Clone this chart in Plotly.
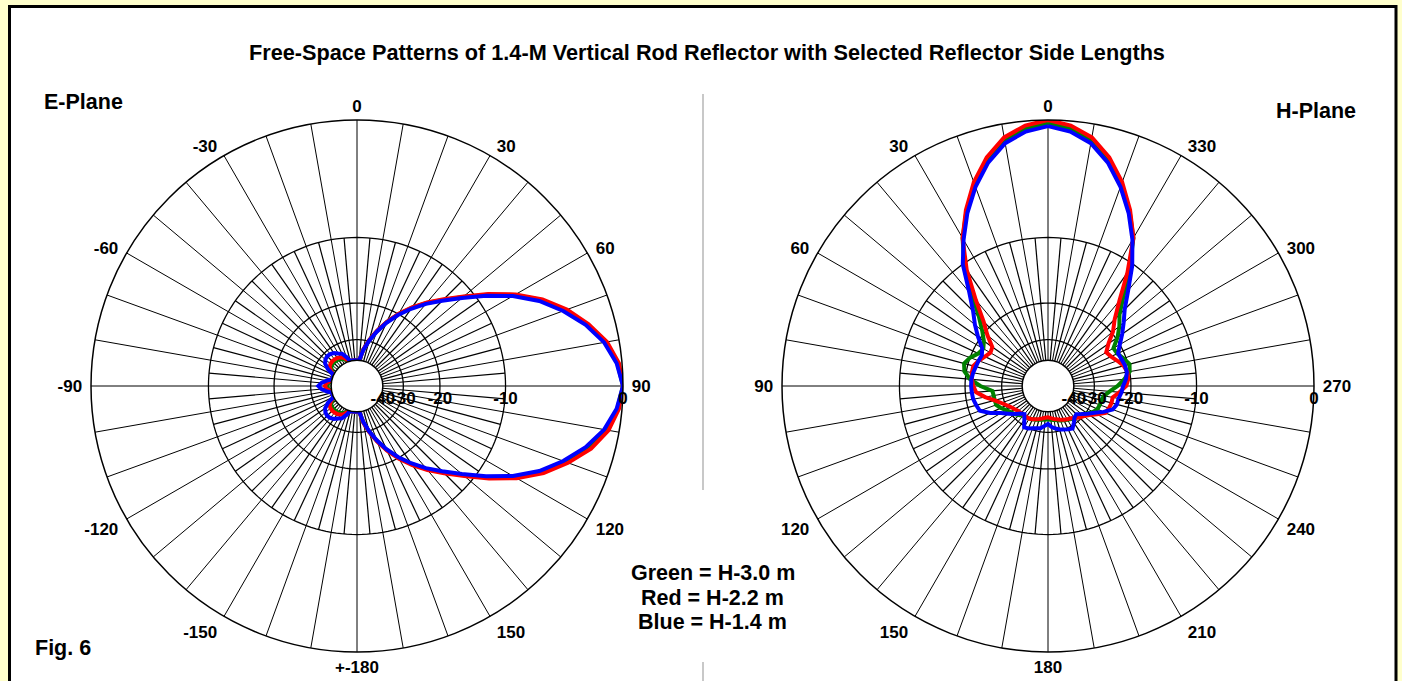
import plotly.graph_objects as go

W, H = 1402, 681

TITLE = "Free-Space Patterns of 1.4-M Vertical Rod Reflector with Selected Reflector Side Lengths"

# azimuth / elevation angles (degrees), 5-degree steps
theta_deg = list(range(0, 360, 5))

# ---------------- E-plane (0 up, clockwise; 270 == -90) ----------------
e_blue = [-50, -40.5, -34, -29.8, -26.2, -23.0, -20.2, -17.8, -15.6, -13.6, -11.4, -9.0,
          -6.7, -4.8, -3.3, -2.0, -1.0, -0.35, 0.0, -0.35, -1.0, -2.0, -3.3, -4.8,
          -6.7, -9.0, -11.4, -13.6, -15.6, -17.8, -20.2, -23.0, -26.2, -29.8, -34, -40.5,
          -50, -50, -45, -40.5, -37, -34.5, -33.6, -32.4, -31.8, -31.6, -32.0, -33.0,
          -35.5, -40, -46, -41, -37, -34.5, -33.1, -34.5, -37, -41, -46, -40,
          -35.5, -33.0, -32.0, -31.6, -31.8, -32.4, -33.6, -34.5, -37, -40.5, -45, -50]
e_red = [-50, -40.3, -33.7, -29.5, -25.9, -22.7, -19.9, -17.5, -15.3, -13.3, -11.1, -8.7,
         -6.4, -4.5, -3.0, -1.8, -0.8, -0.2, 0.0, -0.2, -0.7, -1.6, -2.9, -4.4,
         -6.3, -8.6, -11.0, -13.2, -15.2, -17.4, -19.8, -22.6, -25.8, -29.4, -33.6, -40.2,
         -50, -50, -46, -42, -39, -36.8, -35.8, -35.2, -34.9, -34.8, -35.0, -35.6,
         -37.5, -41, -47, -42, -39, -37, -36.3, -37, -39, -42, -47, -41,
         -37.5, -35.6, -35.0, -34.8, -34.9, -35.2, -35.8, -36.8, -39, -42, -46, -50]
e_green = [-50, -40.4, -33.8, -29.6, -26.0, -22.8, -20.0, -17.6, -15.4, -13.4, -11.2, -8.8,
           -6.5, -4.6, -3.1, -1.9, -0.9, -0.3, 0.0, -0.3, -0.9, -1.8, -3.1, -4.6,
           -6.5, -8.8, -11.2, -13.4, -15.4, -17.6, -20.0, -22.8, -26.0, -29.6, -33.8, -40.4,
           -50, -50, -47, -43, -40, -37.8, -36.8, -36.2, -35.9, -35.8, -36.0, -36.6,
           -38.5, -42, -48, -43, -40, -38, -37.2, -38, -40, -43, -48, -42,
           -38.5, -36.6, -36.0, -35.8, -35.9, -36.2, -36.8, -37.8, -40, -43, -47, -50]

# ---------------- H-plane (0 up, counter-clockwise) ----------------
h_blue = [-0.4, -0.7, -1.3, -2.4, -3.9, -5.7, -7.8, -10.0, -13.3, -15.8, -17.6, -19.5,
          -21.5, -22.2, -22.0, -21.8, -21.5, -21.3, -21.3, -21.4, -21.5, -21.9, -22.3, -24.5,
          -27.3, -29.3, -31.0, -33.0, -34.0, -32.0, -29.5, -29.8, -30.5, -31.0, -31.3, -32.5,
          -33.4, -32.0, -31.2, -30.5, -30.0, -29.5, -29.0, -30.5, -32.0, -32.5, -31.0, -29.3,
          -27.5, -25.2, -23.2, -22.6, -22.5, -22.0, -21.7, -21.0, -20.6, -20.7, -21.0, -21.2,
          -20.0, -18.5, -17.0, -15.4, -13.0, -10.2, -7.8, -5.7, -3.9, -2.4, -1.3, -0.7]
h_red = [0.0, -0.3, -0.9, -2.0, -3.5, -5.4, -7.6, -10.8, -14.8, -18.4, -20.8, -23.4,
         -23.8, -23.0, -22.0, -21.2, -21.2, -21.4, -21.8, -22.4, -24.5, -27.0, -28.8, -30.3,
         -31.5, -32.3, -33.0, -33.3, -33.4, -33.5, -33.6, -34.0, -34.6, -35.2, -35.8, -36.4,
         -36.7, -36.2, -35.6, -35.1, -34.4, -33.7, -33.2, -32.8, -31.8, -30.6, -29.8, -28.5,
         -26.6, -24.6, -24.2, -24.0, -24.0, -22.5, -21.0, -20.5, -20.5, -21.0, -22.0, -23.0,
         -23.6, -22.0, -19.6, -17.8, -15.0, -11.2, -7.6, -5.4, -3.5, -2.0, -0.9, -0.3]
h_green = [-0.2, -0.5, -1.1, -2.2, -3.7, -5.5, -7.6, -10.3, -14.0, -17.2, -19.4, -21.0,
           -21.8, -21.3, -20.0, -19.2, -19.6, -21.0, -23.5, -26.8, -27.0, -27.0, -27.0, -28.0,
           -29.3, -30.3, -31.0, -32.0, -33.0, -33.3, -33.6, -34.0, -34.4, -34.8, -35.2, -35.5,
           -35.6, -35.4, -35.0, -34.6, -34.0, -33.5, -33.0, -32.4, -31.8, -31.2, -30.8, -29.5,
           -28.0, -27.2, -27.0, -27.0, -26.5, -25.0, -23.0, -21.4, -20.0, -19.7, -20.5, -21.4,
           -21.6, -19.6, -18.0, -16.6, -14.0, -10.8, -7.6, -5.5, -3.7, -2.2, -1.1, -0.5]

series_names = ["Green", "Red", "Blue"]
series_colors = ["#008000", "#FF0000", "#0000FF"]

ring_db = [-40, -30, -20, -10, 0]
ring_labels = ["-40", "-30", "-20", "-10", "0"]
label_angles = list(range(0, 360, 30))
e_angle_labels = ["0", "30", "60", "90", "120", "150", "+-180", "-150", "-120", "-90", "-60", "-30"]
h_angle_labels = ["0", "30", "60", "90", "120", "150", "180", "210", "240", "270", "300", "330"]
legend_lines = ["Green = H-3.0 m", "Red = H-2.2 m", "Blue = H-1.4 m"]

FONT = "Liberation Sans"
NB = "\u00a0"


def arrl(db):
    """ARRL log scale: radius shrinks by 0.89 every 2 dB."""
    return 0.89 ** (-db / 2.0)


HOLE = arrl(ring_db[0])

tick_font = dict(family=FONT, size=17, color="black", weight="bold")

fig = go.Figure()

for subplot in ["polar", "polar2"]:
    # inner grid rings
    ring_theta = list(range(0, 361, 2))
    for db in ring_db[1:-1]:
        fig.add_trace(go.Scatterpolar(r=[arrl(db)] * len(ring_theta), theta=ring_theta,
                                      mode="lines", line=dict(color="black", width=1.3),
                                      hoverinfo="skip", showlegend=False, subplot=subplot))
    # 5-degree spokes inside the -10 dB ring
    sr, st = [], []
    for a in range(5, 360, 10):
        sr += [arrl(ring_db[0]), arrl(ring_db[3]), None]
        st += [a, a, None]
    fig.add_trace(go.Scatterpolar(r=sr, theta=st, mode="lines",
                                  line=dict(color="black", width=1.2),
                                  hoverinfo="skip", showlegend=False, subplot=subplot))

for subplot, data in [("polar", [e_green, e_red, e_blue]), ("polar2", [h_green, h_red, h_blue])]:
    for name, color, vals in zip(series_names, series_colors, data):
        r = [arrl(v) for v in vals] + [arrl(vals[0])]
        th = theta_deg + [theta_deg[0]]
        fig.add_trace(go.Scatterpolar(r=r, theta=th, mode="lines", name=name,
                                      line=dict(color=color, width=4),
                                      hoverinfo="skip", showlegend=False, subplot=subplot))

spoke_vals = list(range(0, 360, 10))


def angular(labels, direction):
    text = []
    for a in spoke_vals:
        if a not in label_angles:
            text.append("")
            continue
        lab = labels[label_angles.index(a)]
        if a in (0, 180):
            text.append(lab)
        else:
            # pad on the side facing the circle (labels sit a bit further out)
            right_side = (a < 180) == (direction == "clockwise")
            text.append(NB + lab if right_side else lab + NB)
    return dict(direction=direction, rotation=90, tickmode="array", tickvals=spoke_vals,
                ticktext=text, showgrid=True, gridcolor="black", gridwidth=1.2,
                showline=True, linecolor="black", linewidth=1.5, ticks="",
                tickfont=tick_font)


radial = dict(range=[HOLE, 1.0], tickmode="array", tickvals=[arrl(d) for d in ring_db],
              ticktext=ring_labels, showgrid=False, showline=False, ticks="",
              angle=0, side="clockwise", tickfont=tick_font, tickangle=0)


def px(x):
    return x / W


def py(y):
    return 1 - y / H


cx_l, cx_r, cy, rad = 357, 1048, 386, 266
fig.update_layout(
    width=W, height=H,
    margin=dict(l=0, r=0, t=0, b=0),
    paper_bgcolor="#FFFFCC",
    plot_bgcolor="white",
    polar=dict(domain=dict(x=[px(cx_l - rad), px(cx_l + rad)], y=[py(cy + rad), py(cy - rad)]),
               hole=HOLE, bgcolor="white",
               angularaxis=angular(e_angle_labels, "clockwise"), radialaxis=radial),
    polar2=dict(domain=dict(x=[px(cx_r - rad), px(cx_r + rad)], y=[py(cy + rad), py(cy - rad)]),
                hole=HOLE, bgcolor="white",
                angularaxis=angular(h_angle_labels, "counterclockwise"), radialaxis=radial),
    shapes=[
        dict(type="rect", xref="paper", yref="paper", x0=px(9.5), x1=px(1396), y0=py(695), y1=py(6.5),
             line=dict(color="black", width=3), fillcolor="white", layer="below"),
        dict(type="line", xref="paper", yref="paper", x0=px(703), x1=px(703), y0=py(94), y1=py(490),
             line=dict(color="#C8C8C8", width=2)),
        dict(type="line", xref="paper", yref="paper", x0=px(703), x1=px(703), y0=py(662), y1=py(690),
             line=dict(color="#C8C8C8", width=2)),
    ],
    showlegend=False,
)

big = dict(family=FONT, size=21.5, color="black", weight="bold")
ann = [
    dict(text=TITLE, x=px(707), y=py(52), font=dict(family=FONT, size=21.7, color="black", weight="bold")),
    dict(text="E-Plane", x=px(42), y=py(102), xanchor="left", font=big),
    dict(text="H-Plane", x=px(1358), y=py(111), xanchor="right", font=big),
    dict(text="Fig. 6", x=px(33), y=py(648), xanchor="left", font=big),
]
for i, line in enumerate(legend_lines):
    ann.append(dict(text=line, x=px(713), y=py(573 + 24.5 * i), font=big))
for a in ann:
    a.setdefault("xanchor", "center")
    a.update(xref="paper", yref="paper", yanchor="middle", showarrow=False)
fig.update_layout(annotations=ann)

fig.write_html("out.html", config={"displayModeBar": False},
               post_script="document.body.style.margin='0';")
